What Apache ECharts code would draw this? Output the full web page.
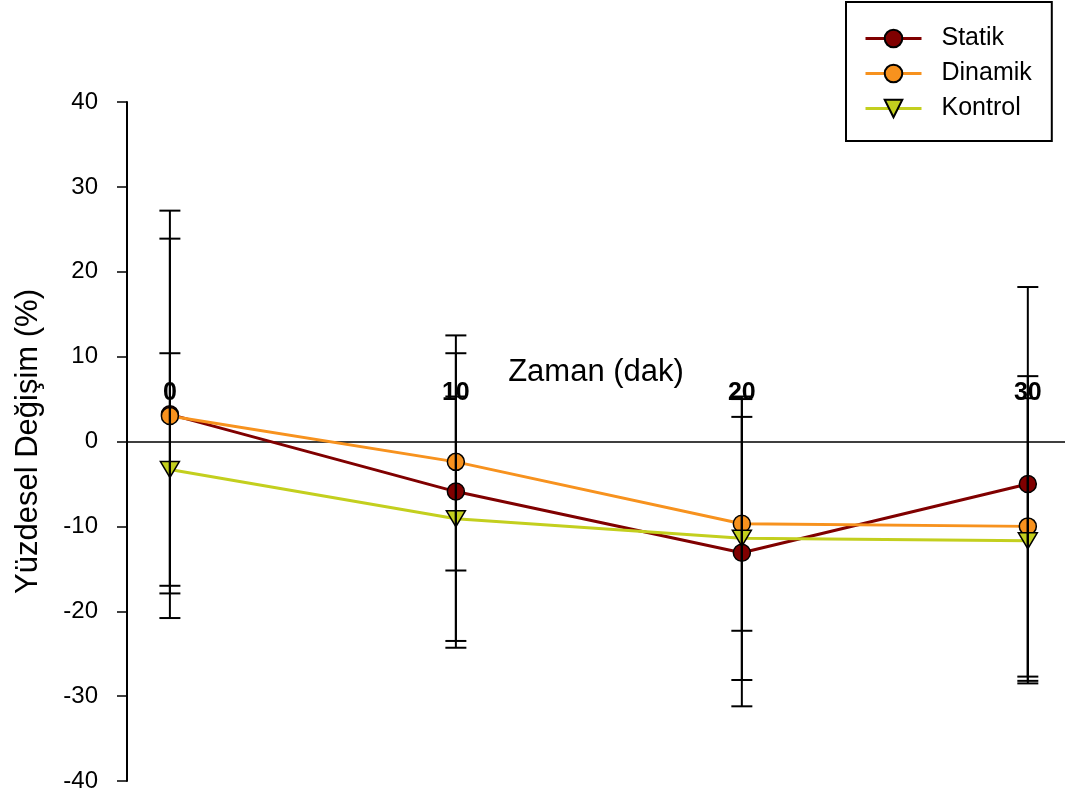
<!DOCTYPE html>
<html>
<head>
<meta charset="utf-8">
<script src="https://cdn.jsdelivr.net/npm/echarts@6/dist/echarts.min.js"></script>
<style>
  html, body { margin: 0; padding: 0; background: #ffffff; }
  #chart { width: 1065px; height: 796px; }
</style>
</head>
<body>
<div id="chart"></div>
<script>
// Time points (minutes)
var times = [0, 10, 20, 30];

// Percent change: mean and standard deviation per group
var statikMean  = [3.2, -5.9, -13.1, -5.0];
var statikSD    = [24.0, 18.4, 18.1, 23.2];
var dinamikMean = [3.0, -2.4, -9.7, -10.0];
var dinamikSD   = [20.9, 12.8, 12.6, 17.7];
var kontrolMean = [-3.3, -9.1, -11.4, -11.7];
var kontrolSD   = [13.7, 14.4, 16.7, 16.8];

var xTickValues = [0, 10, 20, 30];
var seriesNames = ['Statik', 'Dinamik', 'Kontrol'];

var FONT = '"Liberation Sans", Arial, sans-serif';

// Plot area geometry
var GRID_TOP = 102, GRID_BOTTOM = 15, CHART_H = 796;
var Y_MIN = -40, Y_MAX = 40;

function pairs(xs, ys) {
  return xs.map(function (x, i) { return [x, ys[i]]; });
}

// Error bar items: [x, mean, sd]
var errorData = [];
[[statikMean, statikSD], [dinamikMean, dinamikSD], [kontrolMean, kontrolSD]].forEach(function (g) {
  times.forEach(function (t, i) { errorData.push([t, g[0][i], g[1][i]]); });
});

function renderErrorBar(params, api) {
  var x = api.value(0), m = api.value(1), sd = api.value(2);
  var hi = api.coord([x, m + sd]);
  var lo = api.coord([x, m - sd]);
  var hw = 10.5;
  var style = { stroke: '#000000', lineWidth: 2 };
  return {
    type: 'group',
    children: [
      { type: 'line', shape: { x1: hi[0], y1: hi[1], x2: lo[0], y2: lo[1] }, style: style },
      { type: 'line', shape: { x1: hi[0] - hw, y1: hi[1], x2: hi[0] + hw, y2: hi[1] }, style: style },
      { type: 'line', shape: { x1: lo[0] - hw, y1: lo[1], x2: lo[0] + hw, y2: lo[1] }, style: style }
    ]
  };
}

// Shift the x axis (line, labels, title) from the grid bottom up to y = 0
var plotH = CHART_H - GRID_TOP - GRID_BOTTOM;
var zeroOffset = -plotH * (0 - Y_MIN) / (Y_MAX - Y_MIN);

var chart = echarts.init(document.getElementById('chart'), null, { renderer: 'canvas' });

var option = {
  backgroundColor: '#ffffff',
  animation: false,
  textStyle: { fontFamily: FONT, color: '#000000' },
  grid: { left: 127, right: 0, top: GRID_TOP, bottom: GRID_BOTTOM, containLabel: false, outerBoundsMode: 'none' },
  legend: {
    data: seriesNames,
    orient: 'vertical',
    left: 846,
    top: 2,
    padding: [24, 20, 20, 18],
    itemWidth: 56,
    itemHeight: 22,
    itemGap: 10,
    borderColor: '#000000',
    borderWidth: 2,
    backgroundColor: '#ffffff',
    lineStyle: { width: 3 },
    textStyle: { fontFamily: FONT, fontSize: 25, color: '#000000', padding: [0, 0, 0, 15] }
  },
  xAxis: {
    type: 'value',
    min: -1.5,
    max: 31.3,
    offset: zeroOffset,
    name: 'Zaman (dak)',
    nameLocation: 'middle',
    nameGap: -69,
    nameMoveOverlap: false,
    nameTextStyle: { fontFamily: FONT, fontSize: 31, color: '#000000', verticalAlign: 'middle' },
    axisLine: { onZero: false, lineStyle: { color: '#000000', width: 1.5 } },
    axisTick: { show: false },
    splitLine: { show: false },
    axisLabel: {
      inside: true,
      margin: 36,
      customValues: xTickValues,
      fontFamily: FONT,
      fontSize: 25,
      fontWeight: 'bold',
      color: '#000000'
    }
  },
  yAxis: {
    type: 'value',
    min: Y_MIN,
    max: Y_MAX,
    interval: 10,
    name: 'Yüzdesel Değişim (%)',
    nameLocation: 'middle',
    nameGap: 83,
    nameTextStyle: { fontFamily: FONT, fontSize: 31, color: '#000000' },
    axisLine: { show: true, onZero: false, lineStyle: { color: '#000000', width: 2 } },
    axisTick: { show: true, length: 10, lineStyle: { color: '#000000', width: 1.5 } },
    splitLine: { show: false },
    axisLabel: { margin: 29, fontFamily: FONT, fontSize: 24, color: '#000000' }
  },
  series: [
    {
      name: 'Statik', type: 'line', data: pairs(times, statikMean),
      symbol: 'circle', symbolSize: 17, z: 3,
      lineStyle: { color: '#800000', width: 3 },
      itemStyle: { color: '#800000', borderColor: '#000000', borderWidth: 1.5 }
    },
    {
      name: 'Dinamik', type: 'line', data: pairs(times, dinamikMean),
      symbol: 'circle', symbolSize: 17, z: 4,
      lineStyle: { color: '#F7921E', width: 3 },
      itemStyle: { color: '#F7921E', borderColor: '#000000', borderWidth: 1.5 }
    },
    {
      name: 'Kontrol', type: 'line', data: pairs(times, kontrolMean),
      symbol: 'triangle', symbolRotate: 180, symbolSize: [19, 16], z: 5,
      lineStyle: { color: '#C3CF1E', width: 3 },
      itemStyle: { color: '#C3CF1E', borderColor: '#000000', borderWidth: 1.5 }
    },
    {
      name: 'errors', type: 'custom', data: errorData, z: 10,
      renderItem: renderErrorBar, silent: true
    }
  ]
};

chart.setOption(option);
</script>
</body>
</html>
